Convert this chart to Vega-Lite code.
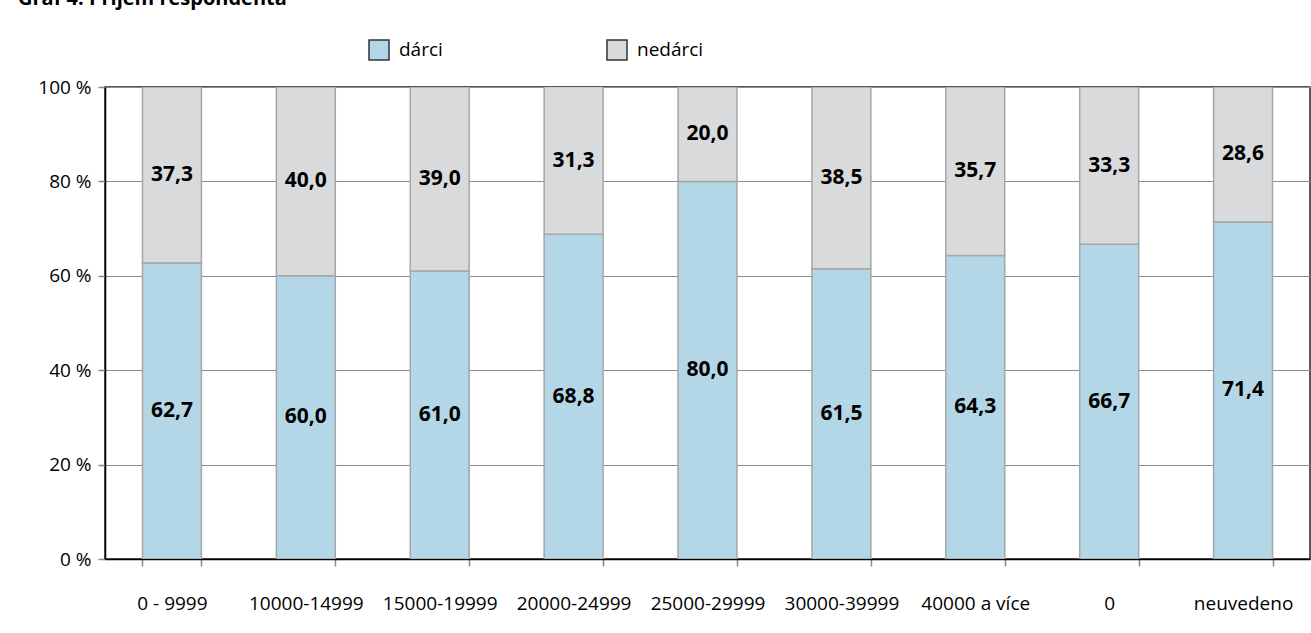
{
  "$schema": "https://vega.github.io/schema/vega-lite/v6.json",
  "width": 1205,
  "height": 472,
  "autosize": {"type": "none"},
  "padding": {"left": 105, "top": 87, "right": 1, "bottom": 74},
  "background": "white",
  "title": {
    "text": "Graf 4: Příjem respondenta",
    "anchor": "start",
    "frame": "group",
    "dx": -87,
    "offset": 30,
    "fontSize": 20,
    "fontWeight": "bold",
    "font": "Open Sans",
    "color": "#000000"
  },
  "config": {
    "locale": {"number": {"decimal": ",", "thousands": " ", "grouping": [3], "currency": ["", " Kč"]}},
    "view": {"stroke": "#222222", "strokeWidth": 1.5},
    "font": "Open Sans"
  },
  "data": {
    "values": [
      {"prijem": "0 - 9999", "skupina": "dárci", "procento": 62.7},
      {"prijem": "0 - 9999", "skupina": "nedárci", "procento": 37.3},
      {"prijem": "10000-14999", "skupina": "dárci", "procento": 60.0},
      {"prijem": "10000-14999", "skupina": "nedárci", "procento": 40.0},
      {"prijem": "15000-19999", "skupina": "dárci", "procento": 61.0},
      {"prijem": "15000-19999", "skupina": "nedárci", "procento": 39.0},
      {"prijem": "20000-24999", "skupina": "dárci", "procento": 68.8},
      {"prijem": "20000-24999", "skupina": "nedárci", "procento": 31.3},
      {"prijem": "25000-29999", "skupina": "dárci", "procento": 80.0},
      {"prijem": "25000-29999", "skupina": "nedárci", "procento": 20.0},
      {"prijem": "30000-39999", "skupina": "dárci", "procento": 61.5},
      {"prijem": "30000-39999", "skupina": "nedárci", "procento": 38.5},
      {"prijem": "40000 a více", "skupina": "dárci", "procento": 64.3},
      {"prijem": "40000 a více", "skupina": "nedárci", "procento": 35.7},
      {"prijem": "0", "skupina": "dárci", "procento": 66.7},
      {"prijem": "0", "skupina": "nedárci", "procento": 33.3},
      {"prijem": "neuvedeno", "skupina": "dárci", "procento": 71.4},
      {"prijem": "neuvedeno", "skupina": "nedárci", "procento": 28.6}
    ]
  },
  "encoding": {
    "x": {
      "field": "prijem",
      "type": "nominal",
      "sort": ["0 - 9999", "10000-14999", "15000-19999", "20000-24999", "25000-29999", "30000-39999", "40000 a více", "0", "neuvedeno"],
      "scale": {"paddingInner": 0.56, "paddingOuter": 0.28},
      "axis": {
        "title": null,
        "labelAngle": 0,
        "labelFontSize": 19,
        "labelColor": "#000000",
        "labelPadding": 28,
        "tickBand": "extent",
        "tickSize": 7,
        "tickColor": "#888888",
        "tickWidth": 1.5,
        "domainColor": "#000000",
        "domainWidth": 1.5,
        "grid": false
      }
    }
  },
  "layer": [
    {
      "transform": [
        {"stack": "procento", "groupby": ["prijem"], "sort": [{"field": "skupina", "order": "ascending"}], "as": ["y0", "y1"]}
      ],
      "mark": {"type": "bar", "stroke": "#a6a6a6", "strokeWidth": 1.5, "clip": true},
      "encoding": {
        "y": {
          "field": "y0",
          "type": "quantitative",
          "scale": {"domain": [0, 100], "nice": false},
          "axis": {
            "title": null,
            "values": [0, 20, 40, 60, 80, 100],
            "labelExpr": "datum.value + ' %'",
            "labelFontSize": 19,
            "labelColor": "#000000",
            "labelPadding": 7,
            "tickSize": 7,
            "tickColor": "#888888",
            "tickWidth": 1.5,
            "domainColor": "#000000",
            "domainWidth": 1.5,
            "gridColor": "#8c8c8c",
            "gridWidth": 1
          }
        },
        "y2": {"field": "y1"},
        "color": {
          "field": "skupina",
          "type": "nominal",
          "scale": {"domain": ["dárci", "nedárci"], "range": ["#b4d7e8", "#d9dadc"]},
          "legend": {
            "title": null,
            "orient": "none",
            "direction": "horizontal",
            "legendX": 263,
            "legendY": -48,
            "padding": 0,
            "symbolType": "square",
            "symbolSize": 400,
            "symbolStrokeColor": "#333333",
            "symbolStrokeWidth": 1.5,
            "labelFontSize": 19,
            "labelColor": "#000000",
            "labelOffset": 9,
            "columnPadding": 161
          }
        }
      }
    },
    {
      "transform": [{"filter": "datum.skupina === 'dárci'"}],
      "mark": {"type": "text", "fontWeight": "bold", "fontSize": 21, "color": "#000000"},
      "encoding": {
        "y": {"field": "procento", "type": "quantitative", "scale": {"domain": [0, 200], "nice": false}, "axis": null},
        "text": {"field": "procento", "type": "quantitative", "format": ".1f"}
      }
    },
    {
      "transform": [{"filter": "datum.skupina === 'nedárci'"}],
      "mark": {"type": "text", "fontWeight": "bold", "fontSize": 21, "color": "#000000"},
      "encoding": {
        "y": {"field": "procento", "type": "quantitative", "scale": {"domain": [0, 200], "nice": false, "reverse": true}, "axis": null},
        "text": {"field": "procento", "type": "quantitative", "format": ".1f"}
      }
    }
  ],
  "resolve": {"scale": {"y": "independent"}}
}
